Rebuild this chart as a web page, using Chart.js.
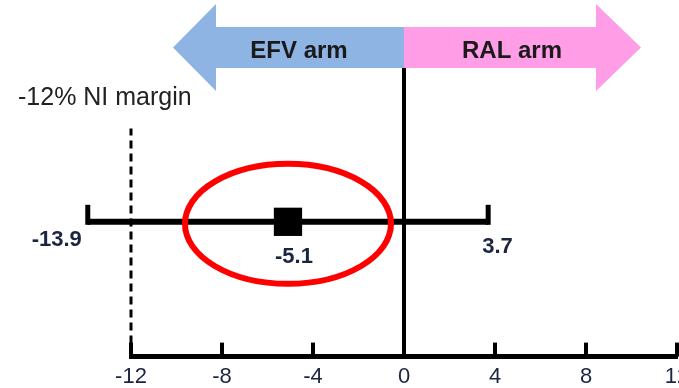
<!DOCTYPE html>
<html>
<head>
<meta charset="utf-8">
<script src="https://cdn.jsdelivr.net/npm/chart.js@4.4.1/dist/chart.umd.min.js"></script>
<style>
  html, body { margin: 0; padding: 0; background: #fff; }
  #wrap { width: 679px; height: 388px; }
</style>
</head>
<body>
<div id="wrap"><canvas id="myChart"></canvas></div>
<script>
// data
const categories = ['RAL - EFV'];
const estimate = [-5.1];
const ciLow = [-13.9];
const ciHigh = [3.7];
const niMargin = [-12];
const tickValues = [-12, -8, -4, 0, 4, 8, 12];
const armLabels = ['EFV arm', 'RAL arm'];
const marginLabel = '-12% NI margin';

// layout (fractions of plot height)
const ROW_Y = 0.378;
const MARGIN_TOP = 0.64;
const ZERO_TOP = 0.81;
const FONT = 'Arial, "Liberation Sans", sans-serif';

const forestPlugin = {
    id: 'forest',
    beforeDatasetsDraw: (chart) => {
        const {ctx} = chart;
        const x = chart.scales.x, y = chart.scales.y;
        const base = y.getPixelForValue(0);
        ctx.save();
        // tick marks point up into the plot
        ctx.strokeStyle = '#000';
        ctx.lineWidth = 4;
        x.ticks.forEach(t => {
            const px = x.getPixelForValue(t.value);
            ctx.beginPath();
            ctx.moveTo(px, base);
            ctx.lineTo(px, base - 14);
            ctx.stroke();
        });
        ctx.restore();
    },
    afterDatasetsDraw: (chart) => {
        const {ctx} = chart;
        const x = chart.scales.x, y = chart.scales.y;
        ctx.save();
        categories.forEach((c, i) => {
            const py = y.getPixelForValue(ROW_Y);
            const lo = x.getPixelForValue(ciLow[i]);
            const hi = x.getPixelForValue(ciHigh[i]);
            const pt = x.getPixelForValue(estimate[i]);
            // caps
            ctx.strokeStyle = '#000';
            ctx.lineWidth = 5;
            [lo, hi].forEach(px => {
                ctx.beginPath();
                ctx.moveTo(px, py + 3);
                ctx.lineTo(px, py - 17);
                ctx.stroke();
            });
            // value labels
            ctx.fillStyle = '#1c2540';
            ctx.font = 'bold 22px ' + FONT;
            ctx.textBaseline = 'middle';
            ctx.textAlign = 'right';
            ctx.fillText(ciLow[i].toFixed(1), lo - 6, py + 18);
            ctx.textAlign = 'left';
            ctx.fillText(ciHigh[i].toFixed(1), hi - 6, py + 25);
            ctx.textAlign = 'center';
            ctx.fillText(estimate[i].toFixed(1), pt + 6, py + 35);
            // red ellipse
            ctx.strokeStyle = '#ff0000';
            ctx.lineWidth = 6;
            ctx.beginPath();
            ctx.ellipse(pt, py + 2, 103, 60, 0, 0, Math.PI * 2);
            ctx.stroke();
        });

        // arrows
        const x0 = x.getPixelForValue(0);
        const sT = 27, sB = 68, hT = 4, hB = 91, mid = 47.5;
        ctx.fillStyle = '#8db4e2';
        ctx.beginPath();
        ctx.moveTo(x0, sT);
        ctx.lineTo(x0 - 188, sT);
        ctx.lineTo(x0 - 188, hT);
        ctx.lineTo(x0 - 231, mid);
        ctx.lineTo(x0 - 188, hB);
        ctx.lineTo(x0 - 188, sB);
        ctx.lineTo(x0, sB);
        ctx.closePath();
        ctx.fill();
        ctx.fillStyle = '#ff9de6';
        ctx.beginPath();
        ctx.moveTo(x0, sT);
        ctx.lineTo(x0 + 192, sT);
        ctx.lineTo(x0 + 192, hT);
        ctx.lineTo(x0 + 237, mid);
        ctx.lineTo(x0 + 192, hB);
        ctx.lineTo(x0 + 192, sB);
        ctx.lineTo(x0, sB);
        ctx.closePath();
        ctx.fill();
        ctx.fillStyle = '#1a1a1a';
        ctx.font = 'bold 24px ' + FONT;
        ctx.textAlign = 'center';
        ctx.textBaseline = 'middle';
        ctx.fillText(armLabels[0], x0 - 105, 51);
        ctx.fillText(armLabels[1], x0 + 108, 51);

        ctx.fillStyle = '#222';
        ctx.font = '25px ' + FONT;
        ctx.textAlign = 'left';
        ctx.fillText(marginLabel, 18, 98);
        ctx.restore();
    }
};

const data = {
    datasets: [
        {
            label: 'CI',
            type: 'line',
            data: categories.map((c, i) => [{x: ciLow[i], y: ROW_Y}, {x: ciHigh[i], y: ROW_Y}]).flat(),
            borderColor: '#000',
            borderWidth: 6,
            pointRadius: 0,
            clip: false
        },
        {
            label: 'Estimate',
            data: estimate.map(v => ({x: v, y: ROW_Y})),
            pointStyle: 'rect',
            pointRadius: 20,
            backgroundColor: '#000',
            borderColor: '#000',
            borderWidth: 0,
            clip: false
        },
        {
            label: 'NI margin',
            type: 'line',
            data: [{x: niMargin[0], y: 0}, {x: niMargin[0], y: MARGIN_TOP}],
            borderColor: '#000',
            borderWidth: 3,
            borderDash: [8, 5],
            pointRadius: 0,
            clip: false
        },
        {
            label: 'Zero',
            type: 'line',
            data: [{x: 0, y: 0}, {x: 0, y: ZERO_TOP}],
            borderColor: '#000',
            borderWidth: 4,
            pointRadius: 0,
            clip: false
        }
    ]
};

const config = {
    type: 'scatter',
    data,
    options: {
        responsive: true,
        maintainAspectRatio: false,
        animation: false,
        layout: { autoPadding: false, padding: { left: 131, right: 2, top: 0, bottom: -9 } },
        plugins: {
            legend: { display: false },
            tooltip: { enabled: false }
        },
        scales: {
            x: {
                type: 'linear',
                min: -12,
                max: 12,
                afterBuildTicks: (scale) => {
                    scale.ticks = tickValues.map(v => ({value: v}));
                },
                afterFit: (scale) => {
                    scale.paddingLeft = 0;
                    scale.paddingRight = 0;
                },
                grid: { display: false, drawTicks: false },
                border: { display: true, color: '#000', width: 5 },
                ticks: {
                    padding: 7,
                    color: '#1c2540',
                    font: { family: FONT, size: 22 },
                    maxRotation: 0,
                    autoSkip: false
                }
            },
            y: {
                type: 'linear',
                min: 0,
                max: 1,
                display: false
            }
        }
    },
    plugins: [forestPlugin]
};

const myChart = new Chart(document.getElementById('myChart'), config);
</script>
</body>
</html>
